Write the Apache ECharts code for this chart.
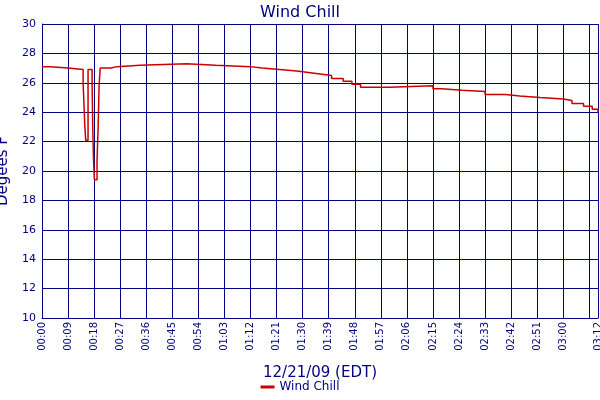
<!DOCTYPE html>
<html><head><meta charset="utf-8">
<script src="https://cdn.jsdelivr.net/npm/echarts@6/dist/echarts.min.js"></script>
<style>html,body{margin:0;padding:0;background:#fff}#c{width:600px;height:400px}</style>
</head><body><div id="c"></div>
<script>
var minutes = [0,2.8,9,14.2,14.5,14.8,15.1,15.9,17.3,17.5,17.8,18.1,19.0,19.4,19.7,20.1,23.8,25.9,33.8,50,60,72,76,82,88,92,96,100,104,107,110,120,135,138,145,153,160,165,172,180,183,187,190,192];
var windChill = [27.1,27.0,26.9,26.0,24.5,23.0,22.1,26.9,26.0,23.1,20.7,19.4,20.7,23.1,25.7,27.0,27.1,27.2,27.3,27.2,27.1,27.0,26.9,26.8,26.7,26.6,26.5,26.3,26.1,25.9,25.7,25.8,25.6,25.5,25.4,25.2,25.1,25.0,24.9,24.8,24.6,24.4,24.2,24.0];
var yTicks = {min:10, max:30, interval:2};
var xTicks = {min:0, max:192, interval:9};
function fmt(m){var h=Math.floor(m/60),mm=Math.round(m%60);return (h<10?'0':'')+h+':'+(mm<10?'0':'')+mm;}
var navy='#000080';
var chart = echarts.init(document.getElementById('c'));
chart.setOption({
  animation:false,
  title:{text:'Wind Chill',left:'center',top:0,textStyle:{color:navy,fontFamily:'DejaVu Sans',fontSize:16,fontWeight:'normal'}},
  grid:{left:42,right:2,top:24,bottom:82,containLabel:false,outerBoundsMode:'none'},
  legend:{bottom:2,left:'center',itemWidth:14,itemHeight:3,icon:'rect',textStyle:{color:navy,fontFamily:'DejaVu Sans',fontSize:12},data:['Wind Chill']},
  xAxis:{type:'value',min:xTicks.min,max:xTicks.max,interval:xTicks.interval,
    name:'12/21/09 (EDT)',nameLocation:'middle',nameGap:48,nameTextStyle:{color:navy,fontFamily:'DejaVu Sans',fontSize:15},
    axisLine:{lineStyle:{color:navy}},axisTick:{show:false},
    axisLabel:{rotate:90,color:navy,fontFamily:'DejaVu Sans',fontSize:10,formatter:fmt,showMaxLabel:true,hideOverlap:false,margin:4},
    splitLine:{show:true,lineStyle:{color:navy,width:1}}},
  yAxis:{type:'value',min:yTicks.min,max:yTicks.max,interval:yTicks.interval,
    name:'Degees F',nameLocation:'middle',nameGap:26,nameTextStyle:{color:navy,fontFamily:'DejaVu Sans',fontSize:15},
    axisLine:{show:true,lineStyle:{color:navy}},axisTick:{show:false},
    axisLabel:{color:navy,fontFamily:'DejaVu Sans',fontSize:11,margin:6},
    splitLine:{show:true,lineStyle:{color:navy,width:1}}},
  series:[{name:'Wind Chill',type:'line',step:'end',showSymbol:false,
    data:minutes.map(function(m,i){return [m,windChill[i]];}),
    lineStyle:{color:'#cc0000',width:1.5},itemStyle:{color:'#cc0000'}}]
});
</script></body></html>
